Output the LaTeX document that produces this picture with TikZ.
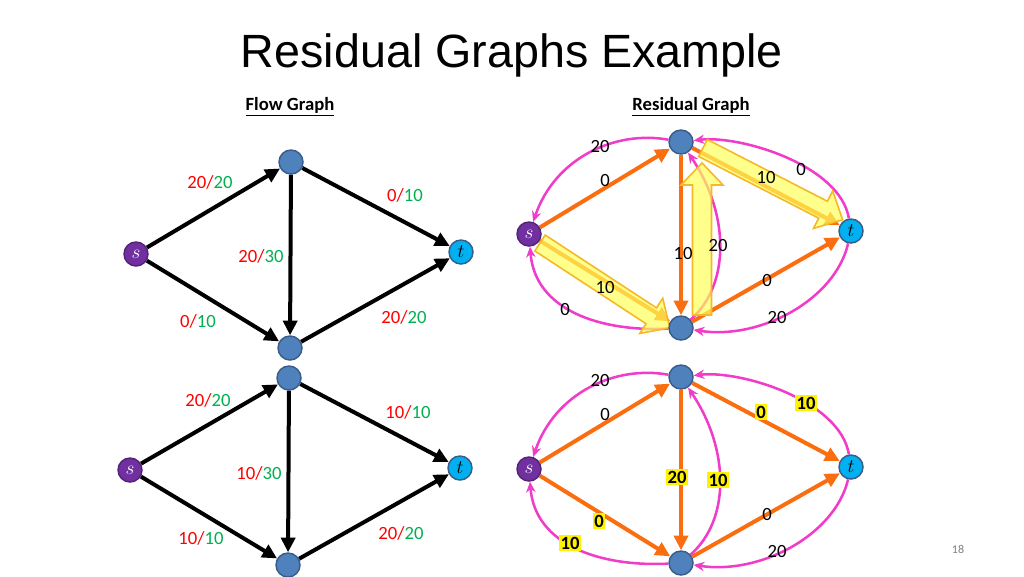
\documentclass[tikz,border=0pt]{standalone}
\usepackage{fontspec}
\setmainfont{Carlito}
\newfontfamily\titlefont{Liberation Sans}
\usetikzlibrary{arrows.meta}
\definecolor{nodeblue}{RGB}{79,129,189}
\definecolor{nodeborder}{RGB}{56,93,138}
\definecolor{spurple}{RGB}{112,48,160}
\definecolor{tcyan}{RGB}{0,176,240}
\definecolor{eorange}{RGB}{250,110,15}
\definecolor{emag}{RGB}{240,60,200}
\definecolor{lred}{RGB}{255,0,0}
\definecolor{lgreen}{RGB}{0,176,80}
\definecolor{blockfill}{RGB}{255,255,90}
\definecolor{blockedge}{RGB}{245,185,40}
\pgfdeclarelayer{edgelayer}
\pgfdeclarelayer{blocklayer}
\pgfsetlayers{edgelayer,blocklayer,main}
\newcommand\fl[2]{\textcolor{lred}{#1/}\textcolor{lgreen}{#2}}
\newcommand\blockarr[3]{%
  \begin{scope}[shift={#1}, rotate=#2]
    \draw[blockarrow] (0,-9.5) -- ({#3-22},-9.5) -- ({#3-22},-21) -- (#3,0)
      -- ({#3-22},21) -- ({#3-22},9.5) -- (0,9.5) -- cycle;
  \end{scope}}
\begin{document}
\begin{tikzpicture}[x=0.75pt,y=-0.75pt,
  vtx/.style={circle, fill=nodeblue, draw=nodeborder, line width=1.1pt, minimum size=18pt, inner sep=0pt, font=\fontsize{15}{17}\selectfont},
  src/.style={vtx, fill=spurple, draw=spurple!75!black, text=white},
  snk/.style={vtx, fill=tcyan, draw=nodeborder},
  flowedge/.style={line width=3pt, -{Triangle[length=11pt,width=10.5pt]}},
  resedge/.style={draw=eorange, line width=3pt, -{Triangle[length=11pt,width=10.5pt]}},
  backedge/.style={draw=emag, line width=1.9pt, -{Stealth[length=8pt,width=7pt]}},
  flab/.style={font=\fontsize{14}{16}\selectfont, inner sep=1pt},
  rlab/.style={font=\fontsize{14}{16}\selectfont, inner sep=1pt},
  hlab/.style={fill=yellow, inner sep=1pt, font=\bfseries\fontsize{14}{16}\selectfont},
  blockarrow/.style={fill=blockfill, fill opacity=0.7, draw=blockedge, line width=1.2pt, line join=miter}
]
\useasboundingbox (0,0) rectangle (1024,576);

% titles
\node[font=\titlefont\fontsize{35}{40}\selectfont, anchor=base] (title) at (512,67) {Residual Graphs Example};
\node[font=\bfseries\fontsize{14}{16}\selectfont, anchor=base] (fg) at (290,110) {\underline{Flow Graph}};
\node[font=\bfseries\fontsize{14}{16}\selectfont, anchor=base] (rg) at (691,110) {\underline{Residual Graph}};
\node[text=gray, font=\fontsize{9}{10}\selectfont] (pg) at (958,549) {18};

% ---------- top-left flow graph ----------
\node[src] (s1) at (136,254) {$s$};
\node[vtx] (a1) at (291,162) {};
\node[vtx] (b1) at (290,348) {};
\node[snk] (t1) at (461,252) {$t$};
\begin{pgfonlayer}{edgelayer}
\draw[flowedge] (s1) -- (a1);
\draw[flowedge] (s1) -- (b1);
\draw[flowedge] (a1) -- (b1);
\draw[flowedge] (a1) -- (t1);
\draw[flowedge] (b1) -- (t1);
\end{pgfonlayer}
\node[flab] (l11) at (210,182) {\fl{20}{20}};
\node[flab] (l12) at (405,195) {\fl{0}{10}};
\node[flab] (l13) at (261,256) {\fl{20}{30}};
\node[flab] (l14) at (198,321) {\fl{0}{10}};
\node[flab] (l15) at (404,317) {\fl{20}{20}};

% ---------- bottom-left flow graph ----------
\node[src] (s2) at (130,470) {$s$};
\node[vtx] (a2) at (289,378) {};
\node[vtx] (b2) at (288,565) {};
\node[snk] (t2) at (460,468) {$t$};
\begin{pgfonlayer}{edgelayer}
\draw[flowedge] (s2) -- (a2);
\draw[flowedge] (s2) -- (b2);
\draw[flowedge] (a2) -- (b2);
\draw[flowedge] (a2) -- (t2);
\draw[flowedge] (b2) -- (t2);
\end{pgfonlayer}
\node[flab] (l21) at (208,400) {\fl{20}{20}};
\node[flab] (l22) at (408,412) {\fl{10}{10}};
\node[flab] (l23) at (259,473) {\fl{10}{30}};
\node[flab] (l24) at (201,538) {\fl{10}{10}};
\node[flab] (l25) at (401,533) {\fl{20}{20}};

% ---------- top-right residual graph ----------
\node[src] (s3) at (529,234) {$s$};
\node[vtx] (a3) at (681,142) {};
\node[vtx] (b3) at (681,328) {};
\node[snk] (t3) at (851,231) {$t$};
\begin{pgfonlayer}{edgelayer}
\draw[resedge] (s3) -- (a3);
\draw[resedge] (s3) -- (b3);
\draw[resedge] (a3) -- (b3);
\draw[resedge] (a3) -- (t3);
\draw[resedge] (b3) -- (t3);
\draw[backedge] (a3) .. controls (615,130) and (555,158) .. (s3);
\draw[backedge] (t3) .. controls (840,165) and (740,135) .. (a3);
\draw[backedge] (b3) .. controls (600,332) and (535,310) .. (s3);
\draw[backedge] (t3) .. controls (835,300) and (760,340) .. (b3);
\draw[backedge] (b3) .. controls (730,285) and (730,215) .. (a3);
\end{pgfonlayer}
\begin{pgfonlayer}{blocklayer}
\blockarr{(540,243)}{-33.2}{155}
\blockarr{(703,148)}{-27.2}{157}
\blockarr{(702,315)}{90}{152}
\end{pgfonlayer}
\node[rlab] (l31) at (600,146) {20};
\node[rlab] (l32) at (605,180) {0};
\node[rlab] (l33) at (766,177) {10};
\node[rlab] (l34) at (801,169) {0};
\node[rlab] (l35) at (683,253) {10};
\node[rlab] (l36) at (718,245) {20};
\node[rlab] (l37) at (605,287) {10};
\node[rlab] (l38) at (565,309) {0};
\node[rlab] (l39) at (767,280) {0};
\node[rlab] (l30) at (777,317) {20};

% ---------- bottom-right residual graph ----------
\begin{scope}[shift={(0,235)}]
\node[src] (s4) at (529,234) {$s$};
\node[vtx] (a4) at (681,142) {};
\node[vtx] (b4) at (681,328) {};
\node[snk] (t4) at (851,232) {$t$};
\begin{pgfonlayer}{edgelayer}
\draw[resedge] (s4) -- (a4);
\draw[resedge] (s4) -- (b4);
\draw[resedge] (a4) -- (b4);
\draw[resedge] (a4) -- (t4);
\draw[resedge] (b4) -- (t4);
\draw[backedge] (a4) .. controls (615,130) and (555,158) .. (s4);
\draw[backedge] (t4) .. controls (840,165) and (740,135) .. (a4);
\draw[backedge] (b4) .. controls (600,332) and (535,310) .. (s4);
\draw[backedge] (t4) .. controls (835,300) and (760,340) .. (b4);
\draw[backedge] (b4) .. controls (730,285) and (730,215) .. (a4);
\end{pgfonlayer}
\end{scope}
\node[rlab] (l41) at (600,380) {20};
\node[rlab] (l42) at (605,414) {0};
\node[hlab] (l43) at (761,412) {0};
\node[hlab] (l44) at (806,403) {10};
\node[hlab] (l45) at (677,477) {20};
\node[hlab] (l46) at (718,480) {10};
\node[hlab] (l47) at (599,521) {0};
\node[hlab] (l48) at (570,543) {10};
\node[rlab] (l49) at (767,514) {0};
\node[rlab] (l40) at (777,551) {20};
\end{tikzpicture}
\end{document}
